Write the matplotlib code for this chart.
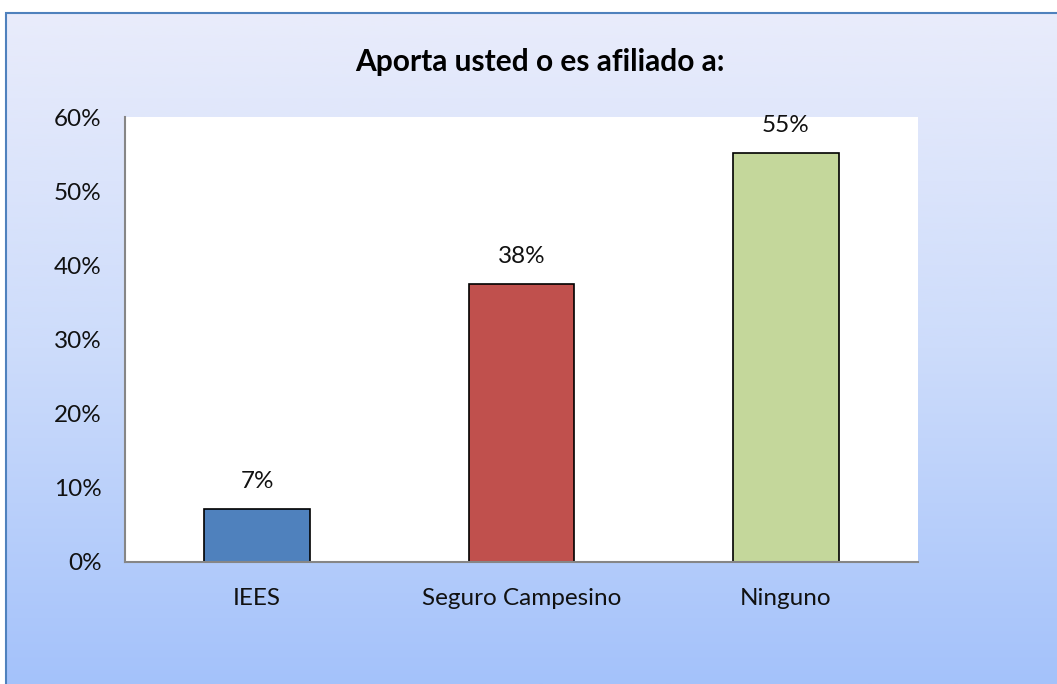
import numpy as np
import matplotlib
matplotlib.use("Agg")
import matplotlib.pyplot as plt
from matplotlib.colors import LinearSegmentedColormap
from matplotlib.patches import Rectangle
from matplotlib.ticker import PercentFormatter

categories = ["IEES", "Seguro Campesino", "Ninguno"]
values = [0.072, 0.375, 0.552]
bar_colors = ["#4f81bd", "#c0504d", "#c4d79b"]
yticks = [0, 0.1, 0.2, 0.3, 0.4, 0.5, 0.6]
title = "Aporta usted o es afiliado a:"

W, H = 1057, 684
FONT = "Lato"
FS = 17.5

fig = plt.figure(figsize=(W / 100, H / 100), dpi=100)
fig.patch.set_facecolor("white")

# gradient chart area with blue frame
bg = fig.add_axes([6 / W, 0, 1 - 6 / W, 1 - 13 / H], zorder=0)
cmap = LinearSegmentedColormap.from_list("bg", ["#e9ecfb", "#cddcfb", "#a4c2fa"])
grad = np.linspace(0, 1, 256).reshape(-1, 1)
bg.imshow(grad, aspect="auto", cmap=cmap, extent=[0, 1, 0, 1], origin="upper")
bg.set_xlim(0, 1)
bg.set_ylim(0, 1)
bg.axis("off")
fig.add_artist(Rectangle((6 / W, -0.01), 1.0, 1 - 13 / H + 0.01,
                         transform=fig.transFigure, fill=False,
                         edgecolor="#4f81bd", linewidth=1.5, zorder=1))

ax = fig.add_axes([125 / W, 1 - 562 / H, (918 - 125) / W, (562 - 117) / H], zorder=2)
ax.set_facecolor("white")
x = np.arange(len(categories))
bars = ax.bar(x, values, width=0.4, color=bar_colors, edgecolor="black", linewidth=1.2)
for b, v in zip(bars, values):
    ax.annotate(f"{round(v * 100):.0f}%", (b.get_x() + b.get_width() / 2, v),
                xytext=(0, 19.5), textcoords="offset points",
                ha="center", va="center", fontsize=FS, family=FONT, color="#111111")

ax.set_xlim(-0.5, 2.5)
ax.set_ylim(0, 0.6)
ax.set_yticks(yticks)
ax.yaxis.set_major_formatter(PercentFormatter(1.0, decimals=0))
ax.set_xticks(x)
ax.set_xticklabels(categories)
ax.tick_params(axis="y", length=0, pad=17, labelsize=FS)
ax.tick_params(axis="x", length=0, pad=19, labelsize=FS)
for lab in ax.get_xticklabels() + ax.get_yticklabels():
    lab.set_family(FONT)
    lab.set_color("#111111")
for s in ["top", "right"]:
    ax.spines[s].set_visible(False)
for s in ["left", "bottom"]:
    ax.spines[s].set_color("#868686")
    ax.spines[s].set_linewidth(1.5)

fig.text(540 / W, 1 - 62 / H, title, ha="center", va="center",
         fontsize=21.5, fontweight="bold", family=FONT, color="black", zorder=3)

fig.savefig("out.png", dpi=100)
